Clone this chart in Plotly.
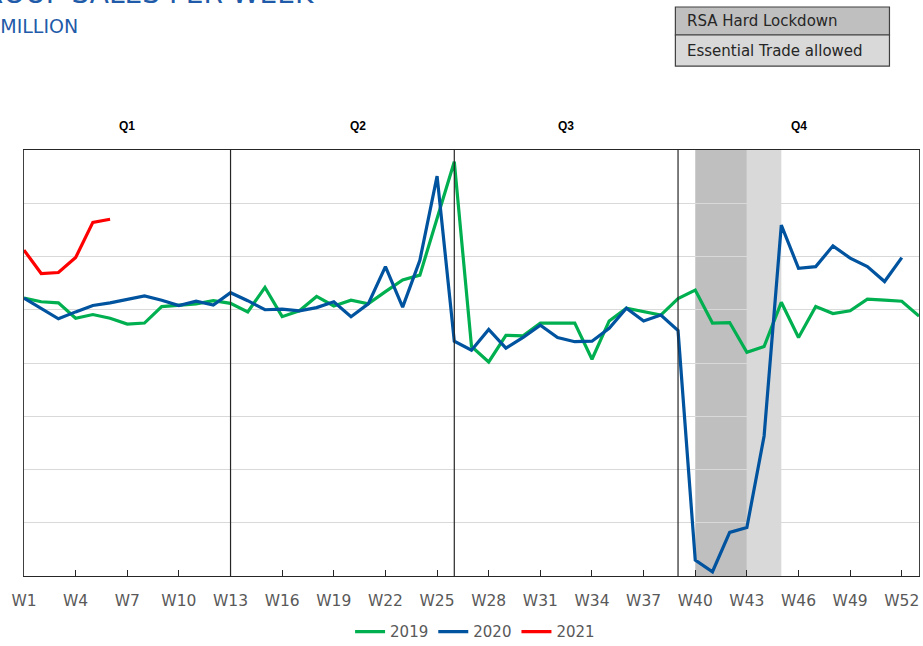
import plotly.graph_objects as go

# ---------------- data ----------------
week_numbers = list(range(1, 54))
tick_weeks = [1, 4, 7, 10, 13, 16, 19, 22, 25, 28, 31, 34, 37, 40, 43, 46, 49, 52]
tick_labels = ["W1", "W4", "W7", "W10", "W13", "W16", "W19", "W22", "W25", "W28",
               "W31", "W34", "W37", "W40", "W43", "W46", "W49", "W52"]

sales_2019 = [522, 515, 513, 484, 491, 484, 473, 475, 506, 508, 511, 517, 512,
              496, 542, 487, 498, 525, 507, 518, 511, 534, 556, 565, 669, 778,
              431, 402, 452, 451, 475, 475, 475, 407, 479, 503, 496, 490, 521,
              537, 475, 476, 420, 431, 514, 448, 506, 493, 498, 520, 518, 516, 488]
sales_2020 = [522, 503, 483, 496, 508, 513, 520, 526, 518, 508, 516, 509, 532,
              517, 500, 501, 498, 504, 515, 487, 511, 581, 505, 593, 751, 441,
              424, 463, 428, 448, 471, 448, 440, 441, 465, 503, 479, 490, 461,
              30, 8, 82, 91, 263, 659, 578, 581, 620, 597, 581, 553, 598]
sales_2021 = [612, 568, 570, 598, 664, 670]

series = [("2019", sales_2019, "#00B050"),
          ("2020", sales_2020, "#00539F"),
          ("2021", sales_2021, "#FF0000")]

quarters = ["Q1", "Q2", "Q3", "Q4"]
quarter_label_weeks = [7, 20.4, 32.5, 46]
quarter_breaks = [13, 26, 39]
hard_lockdown = (40, 43)
essential_trade = (43, 45)

FONT = "DejaVu Sans, Verdana, sans-serif"

# ---------------- figure ----------------
fig = go.Figure()
for name, vals, color in series:
    fig.add_trace(go.Scatter(
        x=week_numbers[:len(vals)], y=vals, name=name, mode="lines",
        line=dict(color=color, width=3.2)))

shapes = []
shapes.append(dict(type="rect", xref="x", yref="paper", x0=hard_lockdown[0], x1=hard_lockdown[1],
                   y0=0, y1=1, fillcolor="#BFBFBF", line=dict(width=0), layer="below"))
shapes.append(dict(type="rect", xref="x", yref="paper", x0=essential_trade[0], x1=essential_trade[1],
                   y0=0, y1=1, fillcolor="#D9D9D9", line=dict(width=0), layer="below"))
for qb in quarter_breaks:
    shapes.append(dict(type="line", xref="x", yref="paper", x0=qb, x1=qb, y0=0, y1=1,
                       line=dict(color="#262626", width=1.2)))

# key boxes top right
bx0, bx1 = 0.7278, 0.967
shapes.append(dict(type="rect", xref="paper", yref="paper", x0=bx0, x1=bx1, y0=1.27, y1=1.3357,
                   fillcolor="#BFBFBF", line=dict(color="#404040", width=1.2)))
shapes.append(dict(type="rect", xref="paper", yref="paper", x0=bx0, x1=bx1, y0=1.197, y1=1.27,
                   fillcolor="#D9D9D9", line=dict(color="#404040", width=1.2)))

annotations = []
for q, xq in zip(quarters, quarter_label_weeks):
    annotations.append(dict(text="<b>%s</b>" % q, x=xq, y=1.056, xref="x", yref="paper",
                            yanchor="middle", showarrow=False,
                            font=dict(size=12, color="#000000", family="Liberation Sans, Arial")))
annotations.append(dict(text="RSA Hard Lockdown", x=bx0 + 0.011, y=1.3035, xref="paper", yref="paper",
                        xanchor="left", yanchor="middle", showarrow=False,
                        font=dict(size=15, color="#262626", family=FONT)))
annotations.append(dict(text="Essential Trade allowed", x=bx0 + 0.011, y=1.2335, xref="paper", yref="paper",
                        xanchor="left", yanchor="middle", showarrow=False,
                        font=dict(size=15, color="#262626", family=FONT)))
# title (partially outside the page as in the reference)
annotations.append(dict(text="GROUP SALES PER WEEK", x=0.3265, y=1.324, xref="paper", yref="paper",
                        xanchor="right", yanchor="bottom", showarrow=False,
                        font=dict(size=28, color="#1F5BA8", family=FONT)))
annotations.append(dict(text="R MILLION", x=0.063, y=1.261, xref="paper", yref="paper",
                        xanchor="right", yanchor="bottom", showarrow=False,
                        font=dict(size=19, color="#1F5BA8", family=FONT)))

fig.update_layout(
    width=923, height=646,
    margin=dict(l=24, r=4, t=150, b=70, autoexpand=False),
    paper_bgcolor="white", plot_bgcolor="white",
    shapes=shapes, annotations=annotations,
    showlegend=True,
    legend=dict(orientation="h", x=0.504, xanchor="center", y=-0.131, yanchor="middle",
                font=dict(size=15, color="#595959", family=FONT),
                itemwidth=30, tracegroupgap=0),
    xaxis=dict(range=[1, 53], tickmode="array", tickvals=tick_weeks, ticktext=tick_labels,
               showgrid=False, zeroline=False, showline=True, linecolor="#262626", linewidth=1.2,
               mirror=True, ticks="inside", ticklen=6, tickcolor="#262626",
               ticklabelstandoff=10,
               tickfont=dict(size=15.5, color="#595959", family=FONT)),
    yaxis=dict(range=[0, 800], dtick=100, showgrid=True, gridcolor="#D9D9D9", gridwidth=1.2,
               zeroline=False, showticklabels=False, showline=True, linecolor="#404040",
               linewidth=1.2, mirror=True, ticks=""),
)

fig.write_html("out.html")
